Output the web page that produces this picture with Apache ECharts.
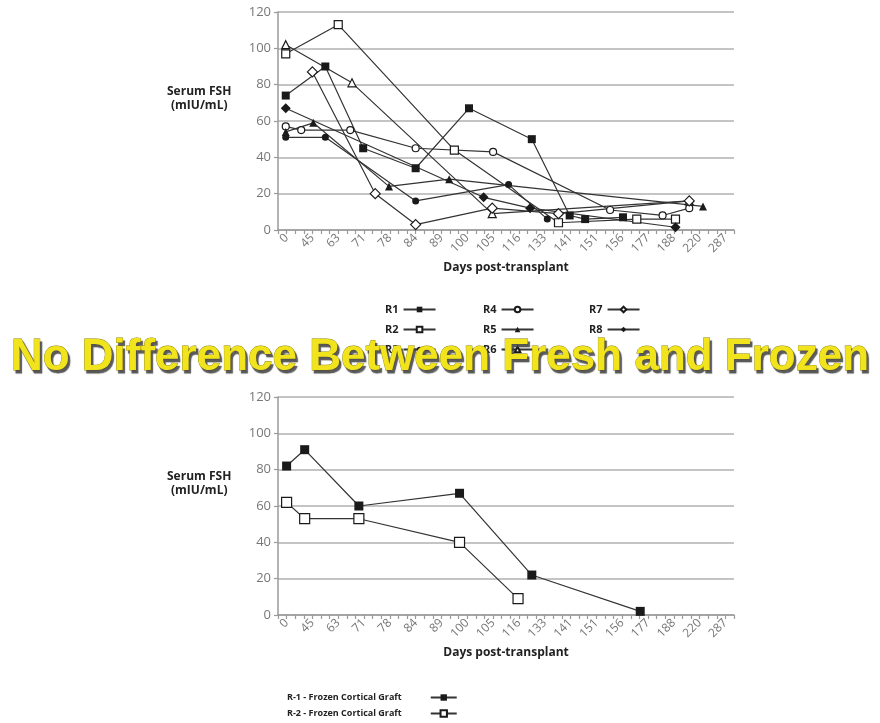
<!DOCTYPE html>
<html lang="en">
<head>
<meta charset="UTF-8">
<title>Serum FSH - Fresh vs Frozen</title>
<script src="https://cdn.jsdelivr.net/npm/echarts@6/dist/echarts.min.js"></script>
<style>html,body{margin:0;background:#fff;}</style>
</head>
<body>
<div id="main" style="width:880px;height:723px;"></div>
<script>
// tick labels of the day axis (equally spaced, one every 3 minor ticks)
const dayLabels = ['0', '45', '63', '71', '78', '84', '89', '100', '105', '116', '133', '141', '151', '156', '177', '188', '220', '287'];

// x positions are in minor-tick units along the axis (label k sits at 1 + 3k)
const r1x = [0.9, 5.5, 9.9, 16.0, 22.2, 29.5, 33.9, 35.7, 40.1];
const r1y = [74, 90, 45, 34, 67, 50, 8, 6, 7];
const r2x = [0.9, 7.0, 20.5, 32.6, 41.7, 46.2];
const r2y = [97, 113, 44, 4, 6, 6];
const r3x = [0.9, 5.5, 16.0, 26.8, 31.3];
const r3y = [51, 51, 16, 25, 6];
const r4x = [0.9, 2.7, 8.4, 16.0, 25.0, 38.6, 44.7, 47.8];
const r4y = [57, 55, 55, 45, 43, 11, 8, 12];
const r5x = [0.9, 4.1, 12.9, 19.9, 49.4];
const r5y = [54, 59, 24, 28, 13];
const r6x = [0.9, 8.6, 24.9, 47.8];
const r6y = [102, 81, 9, 16];
const r7x = [4.0, 11.3, 16.0, 24.9, 32.6, 47.8];
const r7y = [87, 20, 3, 12, 9, 16];
const r8x = [0.9, 23.9, 29.3, 46.2];
const r8y = [67, 18, 12, 1.5];

// frozen grafts (lower chart)
const f1x = [1.0, 3.1, 9.4, 21.1, 29.5, 42.1];
const f1y = [82, 91, 60, 67, 22, 2];
const f2x = [1.0, 3.1, 9.4, 21.1, 27.9];
const f2y = [62, 53, 53, 40, 9];

function pairs(xs, ys) {
    return xs.map(function (x, i) { return [x, ys[i]]; });
}

const ink = '#1a1a1a';
const filled = { color: ink };
const hollow = { color: '#fff', borderColor: ink, borderWidth: 1.2 };

function line(name, xs, ys, symbol, size, style, idx) {
    return {
        name: name,
        type: 'line',
        xAxisIndex: idx,
        yAxisIndex: idx,
        data: pairs(xs, ys),
        symbol: symbol,
        symbolSize: size,
        showAllSymbol: true,
        itemStyle: style,
        lineStyle: { color: '#333', width: 1.2 },
        emphasis: { disabled: true },
        animation: false
    };
}

function xAxisFor(idx) {
    return {
        gridIndex: idx,
        type: 'value',
        min: 0,
        max: 53,
        interval: 1,
        name: 'Days post-transplant',
        nameLocation: 'middle',
        nameGap: 32,
        nameTextStyle: { fontFamily: 'Open Sans', fontWeight: 'bold', fontSize: 12, color: '#222' },
        axisLine: { lineStyle: { color: '#9a9a9a', width: 1.5 } },
        axisTick: { length: 4, lineStyle: { color: '#9a9a9a', width: 1.2 } },
        splitLine: { show: false },
        axisLabel: {
            rotate: 45,
            margin: 6,
            fontFamily: 'Open Sans',
            fontSize: 12,
            color: '#777',
            formatter: function (v) {
                const k = Math.round(v) - 1;
                return (k >= 0 && k % 3 === 0) ? dayLabels[k / 3] : '';
            }
        }
    };
}

function yAxisFor(idx) {
    return {
        gridIndex: idx,
        type: 'value',
        min: 0,
        max: 120,
        interval: 20,
        axisLine: { show: true, lineStyle: { color: '#9a9a9a', width: 1.5 } },
        axisTick: { show: true, length: 4, lineStyle: { color: '#9a9a9a', width: 1.2 } },
        splitLine: { lineStyle: { color: '#b0b0b0', width: 1.6 } },
        axisLabel: { fontFamily: 'Open Sans', fontSize: 13, color: '#777', margin: 7 }
    };
}

const legendText = { fontFamily: 'Open Sans', fontWeight: 'bold', fontSize: 11, color: '#222' };
function legendCol(names, left) {
    return {
        data: names,
        orient: 'vertical',
        left: left,
        top: 299,
        align: 'right',
        itemWidth: 32,
        itemHeight: 7,
        itemGap: 9,
        selectedMode: false,
        textStyle: legendText
    };
}

const myChart = echarts.init(document.getElementById('main'));
const option = {
    backgroundColor: '#fff',
    animation: false,
    grid: [
        { left: 278, top: 12, width: 456, height: 218 },
        { left: 278, top: 397, width: 456, height: 218 }
    ],
    xAxis: [xAxisFor(0), xAxisFor(1)],
    yAxis: [yAxisFor(0), yAxisFor(1)],
    legend: [
        legendCol(['R1', 'R2', 'R3'], 380),
        legendCol(['R4', 'R5', 'R6'], 478),
        legendCol(['R7', 'R8'], 584),
        {
            data: ['R-1 - Frozen Cortical Graft', 'R-2 - Frozen Cortical Graft'],
            orient: 'vertical',
            left: 282,
            top: 688,
            align: 'right',
            itemWidth: 26,
            itemHeight: 8,
            itemGap: 7,
            selectedMode: false,
            textStyle: { fontFamily: 'Open Sans', fontWeight: 'bold', fontSize: 9, color: '#222', padding: [0, 24, 0, 0] }
        }
    ],
    graphic: [
        {
            type: 'text', left: 167, top: 86, z: 10,
            style: { text: 'Serum FSH', font: 'bold 12px "Open Sans"', fill: '#222' }
        },
        {
            type: 'text', left: 171, top: 100, z: 10,
            style: { text: '(mIU/mL)', font: 'bold 12px "Open Sans"', fill: '#222' }
        },
        {
            type: 'text', left: 167, top: 471, z: 10,
            style: { text: 'Serum FSH', font: 'bold 12px "Open Sans"', fill: '#222' }
        },
        {
            type: 'text', left: 171, top: 485, z: 10,
            style: { text: '(mIU/mL)', font: 'bold 12px "Open Sans"', fill: '#222' }
        },
        {
            type: 'text', x: 440, y: 358, z: 100,
            style: {
                text: 'No Difference Between Fresh and Frozen',
                font: 'bold 44px "Liberation Sans"',
                fill: '#f2e41c',
                stroke: '#8f8400',
                lineWidth: 0.8,
                align: 'center',
                verticalAlign: 'middle',
                textShadowColor: 'rgba(60,60,60,0.85)',
                textShadowOffsetX: 2,
                textShadowOffsetY: 3,
                textShadowBlur: 1,
                shadowColor: 'rgba(60,60,60,0.85)',
                shadowOffsetX: 2,
                shadowOffsetY: 3,
                shadowBlur: 1
            }
        }
    ],
    series: [
        line('R1', r1x, r1y, 'rect', 8, filled, 0),
        line('R2', r2x, r2y, 'rect', 8, hollow, 0),
        line('R3', r3x, r3y, 'circle', 7, filled, 0),
        line('R4', r4x, r4y, 'circle', 7, hollow, 0),
        line('R5', r5x, r5y, 'triangle', 8, filled, 0),
        line('R6', r6x, r6y, 'triangle', 8, hollow, 0),
        line('R7', r7x, r7y, 'diamond', 10, hollow, 0),
        line('R8', r8x, r8y, 'diamond', 10, filled, 0),
        line('R-1 - Frozen Cortical Graft', f1x, f1y, 'rect', 9, filled, 1),
        line('R-2 - Frozen Cortical Graft', f2x, f2y, 'rect', 10, hollow, 1)
    ]
};
myChart.setOption(option);
</script>
</body>
</html>
